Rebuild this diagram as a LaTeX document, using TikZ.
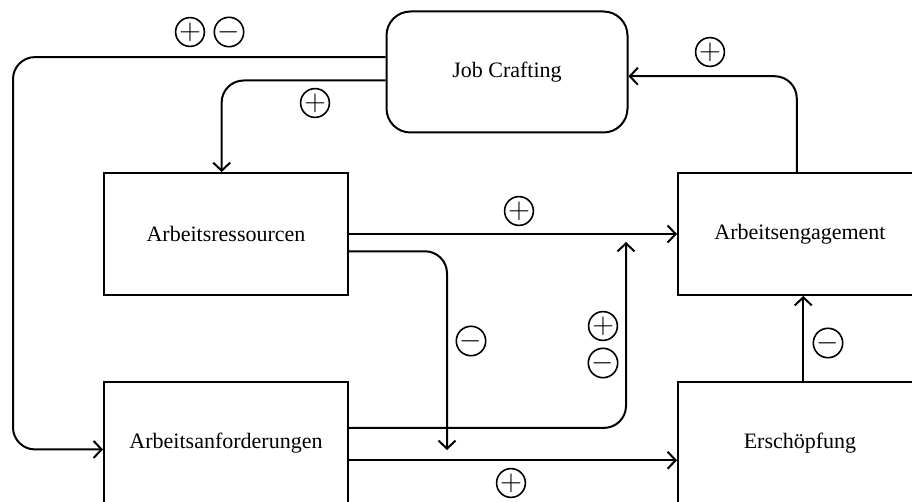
\documentclass[tikz,border=0pt]{standalone}
\usepackage{fontspec}
\setmainfont{Liberation Serif}
\usetikzlibrary{positioning,arrows.meta,calc}
\tikzset{
    on grid,
    x=0.5pt,
    y=-0.5pt,
    block/.style = {
        draw,
        shape=rectangle,
        minimum width=122pt,
        minimum height=61pt,
        line width=1pt
    },
    rblock/.style = {
        block,
        rounded corners=12pt,
        minimum width=120.5pt,
        minimum height=60.5pt
    },
    polarity/.style = {
        draw,
        shape=circle,
        minimum size=14pt,
        inner sep=0pt,
        line width=0.8pt,
        font=\fontsize{15}{15}\selectfont
    },
    link/.style = {
        draw,
        line width=1pt,
        rounded corners=11pt
    },
    >={Straight Barb[length=4pt,width=8.5pt]},
}

\begin{document}
\begin{tikzpicture}[font=\fontsize{11}{13}\selectfont]
        \clip (0,0) rectangle (912,502);

        \node[rblock] (crafting) at (507,72) {Job Crafting};
        \node[block] (ressourcen) at (226,234) {Arbeitsressourcen};
        \node[block, right=287pt of ressourcen] (engagement) {Arbeitsengagement};
        \node[block, below=104.5pt of ressourcen] (anforderungen) {Arbeitsanforderungen};
        \node[block, right=287pt of anforderungen] (erschoepfung) {Erschöpfung};

        \coordinate (outer) at (13,250);
        \coordinate (dip) at (447,450);
        \coordinate (rise) at (626,242);

        \path[link, ->] (crafting.173) -| (outer) |- (anforderungen.183);
        \path[link, ->] (crafting.184) -| (ressourcen.94);
        \path[link, ->] (engagement.93) |- (crafting.-2);
        \path[link, ->] (ressourcen.east) -- (engagement.west);
        \path[link, ->] (ressourcen.352) -| (dip);
        \path[link, ->] (anforderungen.7) -| (rise);
        \path[link, ->] (anforderungen.-8) -- (erschoepfung.188);
        \path[link, ->] (erschoepfung.87) -- (engagement.273);

        \node[polarity] (outerplus) at (190,32) {$+$};
        \node[polarity] (outerminus) at (229,32) {$-$};
        \node[polarity] (innerplus) at (315,103) {$+$};
        \node[polarity] (backplus) at (710,52) {$+$};
        \node[polarity] (directplus) at (519,211) {$+$};
        \node[polarity] (dipminus) at (471,341) {$-$};
        \node[polarity] (riseplus) at (603,326) {$+$};
        \node[polarity] (riseminus) at (603,363) {$-$};
        \node[polarity] (lowplus) at (511,483) {$+$};
        \node[polarity] (upminus) at (828,343) {$-$};
    \end{tikzpicture}
\end{document}
